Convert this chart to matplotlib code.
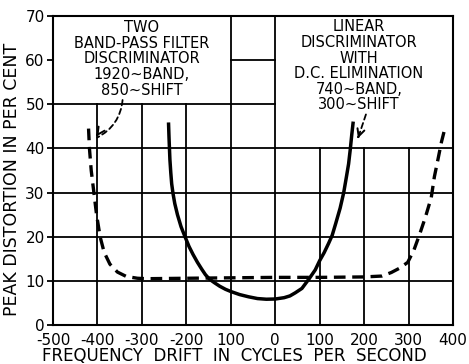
import matplotlib.pyplot as plt
from matplotlib.patches import FancyArrowPatch

# Two band-pass filter discriminator (dashed curve)
drift_bp = [-420, -418, -414, -408, -402, -394, -385, -372, -355, -335, -310, -290,
            -200, -100, 0, 100, 200, 240, 261, 280, 298, 312, 325, 338, 351, 358,
            366, 374, 382]
dist_bp = [44.5, 40, 35, 30, 25, 20, 16.5, 13.8, 12.0, 11.0, 10.6, 10.5,
           10.6, 10.7, 10.8, 10.8, 10.9, 11.1, 11.9, 12.9, 14.2, 17.0, 20.6, 24.5, 28.9, 33.6,
           37.5, 41.5, 44.7]

# Linear discriminator with d.c. elimination (solid curve)
drift_lin = [-240, -239, -238, -237, -235, -233, -230, -226, -220, -212, -203, -194,
             -185, -175, -165, -157, -148, -137, -125, -112, -100, -80, -60, -40,
             -20, 0, 20, 33, 45, 60, 77, 90, 100, 110, 120, 128, 136, 146, 154,
             160, 165, 169, 172, 175]
dist_lin = [45.5, 42.5, 40, 37.5, 34.5, 32, 29.8, 27.5, 25, 22.3, 20, 17.8,
            16, 14.2, 12.6, 11.4, 10.4, 9.6, 8.8, 8.1, 7.6, 6.9, 6.4, 6.0,
            5.85, 5.9, 6.2, 6.6, 7.3, 8.3, 10.6, 12.5, 14.6, 16.4, 18.5, 20.3, 23, 26.5, 30,
            33.5, 36.5, 40, 43, 45.7]

xticks = [-500, -400, -300, -200, -100, 0, 100, 200, 300, 400]
xtick_labels = ["-500", "-400", "-300", "-200", "100", "0", "100", "200", "300", "400"]
yticks = [0, 10, 20, 30, 40, 50, 60, 70]

fig = plt.figure(figsize=(4.69, 3.64), dpi=100)
ax = fig.add_axes([0.113, 0.107, 0.853, 0.849])
ax.set_xlim(-500, 400)
ax.set_ylim(0, 70)

# grid, left open where the captions sit
glw = 1.3
for x in [-400, -300, -200]:
    ax.plot([x, x], [0, 50], color="black", lw=glw, zorder=1)
for x in [-100, 0]:
    ax.plot([x, x], [0, 70], color="black", lw=glw, zorder=1)
for x in [100, 200, 300]:
    ax.plot([x, x], [0, 40], color="black", lw=glw, zorder=1)
for y in [10, 20, 30, 40]:
    ax.plot([-500, 400], [y, y], color="black", lw=glw, zorder=1)
ax.plot([-500, 0], [50, 50], color="black", lw=glw, zorder=1)
ax.plot([-100, 0], [60, 60], color="black", lw=glw, zorder=1)

ax.plot(drift_bp, dist_bp, color="black", lw=2.4, ls=(0, (3.5, 2.0)), zorder=3)
ax.plot(drift_lin, dist_lin, color="black", lw=2.5, zorder=3)

for s in ax.spines.values():
    s.set_linewidth(1.5)

ax.set_xticks(xticks)
ax.set_xticklabels(xtick_labels)
ax.set_yticks(yticks)
ax.tick_params(axis="x", length=0, pad=6, labelsize=11)
ax.tick_params(axis="y", length=4, width=1.3, direction="out", pad=2, labelsize=11)

fs = 10.5
ax.text(-300, 60.3,
        "TWO\nBAND-PASS FILTER\nDISCRIMINATOR\n1920∼BAND,\n850∼SHIFT",
        ha="center", va="center", fontsize=fs, linespacing=1.05)
ax.text(188, 58.7,
        "LINEAR\nDISCRIMINATOR\nWITH\nD.C. ELIMINATION\n740∼BAND,\n300∼SHIFT",
        ha="center", va="center", fontsize=fs, linespacing=1.05)

# pointer arrows
for start, end, rad in [((-343, 51.6), (-406, 42.2), -0.3), ((206, 48.3), (186, 42.3), 0.0)]:
    shaft = FancyArrowPatch(start, end, arrowstyle="-", connectionstyle=f"arc3,rad={rad}",
                            ls=(0, (3, 2)), lw=1.3, color="black", zorder=4)
    ax.add_patch(shaft)
    ax.annotate("", xy=end, xytext=(end[0] + (start[0] - end[0]) * 0.15,
                                     end[1] + (start[1] - end[1]) * 0.15),
                arrowprops=dict(arrowstyle="->", lw=1.4, color="black",
                                mutation_scale=13), zorder=4)

fig.text(0.026, 0.508, "PEAK DISTORTION IN PER CENT", rotation=90,
         ha="center", va="center", fontsize=12.5)
fig.text(0.5, 0.022, "FREQUENCY  DRIFT  IN  CYCLES  PER  SECOND",
         ha="center", va="center", fontsize=12)

fig.savefig("out.png", dpi=100)
